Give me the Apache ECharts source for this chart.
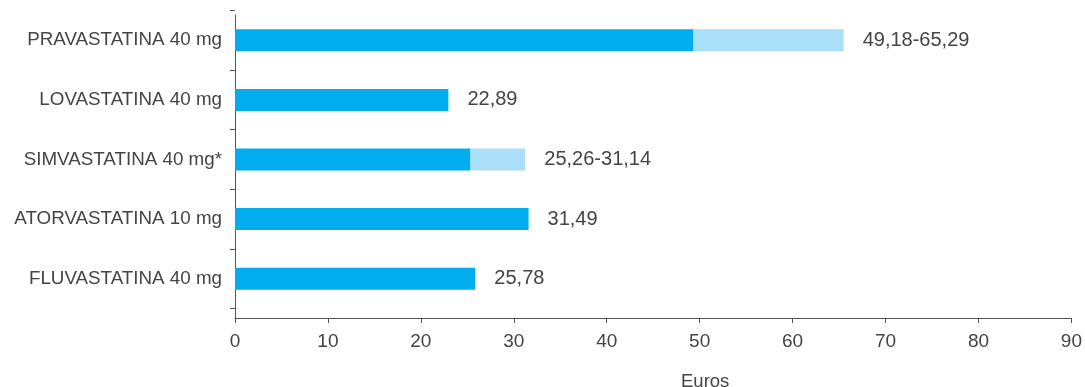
<!DOCTYPE html>
<html>
<head>
<meta charset="utf-8">
<script src="https://cdn.jsdelivr.net/npm/echarts@6/dist/echarts.min.js"></script>
<style>
  html, body { margin: 0; padding: 0; background: #fff; }
  #chart { width: 1085px; height: 387px; }
</style>
</head>
<body>
<div id="chart"></div>
<script>
// Annual cost per statin, in euros (bottom to top on the axis)
const categories = ['FLUVASTATINA 40 mg', 'ATORVASTATINA 10 mg', 'SIMVASTATINA 40 mg*', 'LOVASTATINA 40 mg', 'PRAVASTATINA 40 mg'];
const lowCost = [25.78, 31.49, 25.26, 22.89, 49.18];
const highCost = [25.78, 31.49, 31.14, 22.89, 65.29];
const valueLabels = ['25,78', '31,49', '25,26-31,14', '22,89', '49,18-65,29'];
const xTicks = { min: 0, max: 90, interval: 10 };

// Width of the price range above the lowest price
const rangeExtra = highCost.map((h, i) => +(h - lowCost[i]).toFixed(2));

const FONT = '"Liberation Sans", Arial, sans-serif';
const TEXT = '#444444';
const AXIS = '#555555';

const chart = echarts.init(document.getElementById('chart'), null, { renderer: 'canvas' });
chart.setOption({
  animation: false,
  title: {
    text: 'Euros',
    left: 676, top: 367,
    textStyle: { fontFamily: FONT, fontSize: 18.5, fontWeight: 'normal', color: TEXT }
  },
  grid: [
    { left: 235, right: 11, top: 15, bottom: 69 },
    { left: 235, right: 11, top: 10.5, bottom: 78.5 }
  ],
  xAxis: [
    {
      type: 'value', gridIndex: 0,
      min: xTicks.min, max: xTicks.max, interval: xTicks.interval,
      splitLine: { show: false },
      axisLine: { show: true, lineStyle: { color: AXIS, width: 1 } },
      axisTick: { show: true, length: 5, lineStyle: { color: AXIS } },
      axisLabel: { margin: 14, fontFamily: FONT, fontSize: 19, color: TEXT }
    },
    {
      type: 'value', gridIndex: 1,
      min: xTicks.min, max: xTicks.max, interval: xTicks.interval,
      show: false
    }
  ],
  yAxis: [
    {
      type: 'value', gridIndex: 0, min: 0, max: 1,
      splitLine: { show: false },
      axisLabel: { show: false },
      axisTick: { show: false },
      axisLine: { show: true, lineStyle: { color: AXIS, width: 1 } }
    },
    {
      type: 'category', gridIndex: 1,
      data: categories,
      axisLine: { show: false },
      axisTick: { show: true, length: 5, lineStyle: { color: AXIS } },
      axisLabel: { margin: 13, fontFamily: FONT, fontSize: 18.8, color: TEXT }
    }
  ],
  series: [
    {
      type: 'bar', xAxisIndex: 1, yAxisIndex: 1, stack: 'cost',
      data: lowCost, barWidth: 22,
      itemStyle: { color: '#00aeef' },
      silent: true
    },
    {
      type: 'bar', xAxisIndex: 1, yAxisIndex: 1, stack: 'cost',
      data: rangeExtra, barWidth: 22,
      itemStyle: { color: '#aadff9' },
      silent: true,
      label: {
        show: true, position: 'right', distance: 19,
        fontFamily: FONT, fontSize: 20, color: TEXT,
        formatter: p => valueLabels[p.dataIndex]
      }
    }
  ]
});
</script>
</body>
</html>
